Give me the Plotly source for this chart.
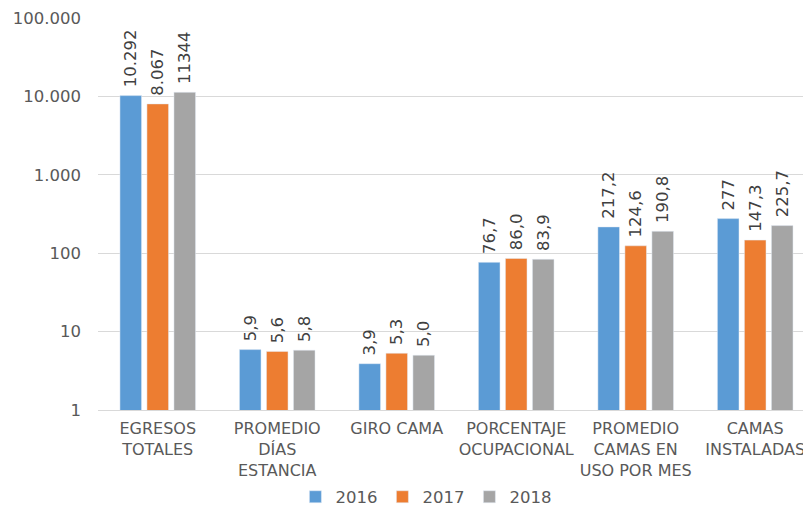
import plotly.graph_objects as go

categories = ["EGRESOS<br>TOTALES", "PROMEDIO<br>DÍAS<br>ESTANCIA", "GIRO CAMA",
              "PORCENTAJE<br>OCUPACIONAL", "PROMEDIO<br>CAMAS EN<br>USO POR MES",
              "CAMAS<br>INSTALADAS"]
years = ["2016", "2017", "2018"]
v2016 = [10292, 5.9, 3.9, 76.7, 217.2, 277]
v2017 = [8067, 5.6, 5.3, 86.0, 124.6, 147.3]
v2018 = [11344, 5.8, 5.0, 83.9, 190.8, 225.7]
t2016 = ["10.292", "5,9", "3,9", "76,7", "217,2", "277"]
t2017 = ["8.067", "5,6", "5,3", "86,0", "124,6", "147,3"]
t2018 = ["11344", "5,8", "5,0", "83,9", "190,8", "225,7"]
colors = ["#5B9BD5", "#ED7D31", "#A5A5A5"]
yticks = [1, 10, 100, 1000, 10000, 100000]
yticktext = ["1", "10", "100", "1.000", "10.000", "100.000"]

FONT = "DejaVu Sans"
fig = go.Figure()
for name, vals, txt, col in zip(years, [v2016, v2017, v2018], [t2016, t2017, t2018], colors):
    fig.add_trace(go.Bar(
        x=categories, y=vals, name=name, marker_color=col,
        text=["\u00a0" + t for t in txt], textposition="outside", textangle=-90,
        textfont=dict(family=FONT, size=16.5, color="#404040"),
        cliponaxis=False, constraintext="none",
    ))

fig.update_layout(
    width=803, height=510,
    margin=dict(l=98, r=0, t=18, b=100, autoexpand=False),
    paper_bgcolor="white", plot_bgcolor="white",
    barmode="group", bargap=0.322, bargroupgap=0.2,
    font=dict(family=FONT, color="#595959"),
    legend=dict(orientation="h", x=0.28, xanchor="left", y=-0.222, yanchor="middle",
                font=dict(size=16.5, color="#595959"), itemwidth=30),
    xaxis=dict(range=[-0.5, 5.40], showgrid=False, showline=True, linecolor="#D9D9D9",
               linewidth=1, ticks="", tickfont=dict(size=16, color="#595959"),
               ticklabelstandoff=4, tickangle=0),
    yaxis=dict(type="log", range=[0, 5.003], tickvals=yticks, ticktext=yticktext,
               showgrid=True, gridcolor="#D9D9D9", gridwidth=1, zeroline=False,
               ticklabeloverflow="allow",
               tickfont=dict(size=16.5, color="#595959"), ticklabelstandoff=16),
)
fig.write_html("out.html", config={"displayModeBar": False},
               post_script="document.body.style.margin='0px';document.body.style.overflow='hidden';")
